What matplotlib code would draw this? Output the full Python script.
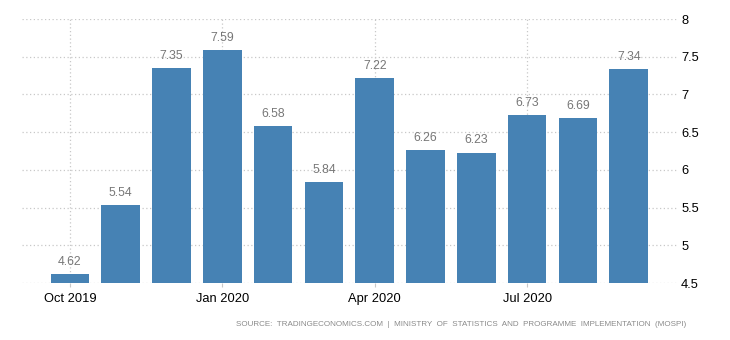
import matplotlib.pyplot as plt

months = ["Oct 2019", "Nov 2019", "Dec 2019", "Jan 2020", "Feb 2020", "Mar 2020",
          "Apr 2020", "May 2020", "Jun 2020", "Jul 2020", "Aug 2020", "Sep 2020"]
values = [4.62, 5.54, 7.35, 7.59, 6.58, 5.84, 7.22, 6.26, 6.23, 6.73, 6.69, 7.34]
tick_labels = ["Oct 2019", "Jan 2020", "Apr 2020", "Jul 2020"]
y_ticks = [4.5, 5, 5.5, 6, 6.5, 7, 7.5, 8]

plt.rcParams["font.family"] = ["Liberation Sans", "DejaVu Sans"]

fig = plt.figure(figsize=(7.3, 3.4), dpi=100)
ax = fig.add_axes([0.0301, 0.1676, 0.8973, 0.7765])

x = list(range(len(values)))
tick_pos = [months.index(t) for t in tick_labels]

ax.set_xlim(-0.945, 11.95)
ax.set_ylim(4.5, 8)

for t in y_ticks:
    ax.axhline(t, color="#c8c8c8", linestyle=(0, (1, 2)), linewidth=0.9, zorder=0)
for p in tick_pos:
    ax.axvline(p, color="#c8c8c8", linestyle=(0, (1, 2)), linewidth=0.9, zorder=0)

ax.bar(x, [v - 4.5 for v in values], bottom=4.5, width=0.76, color="#4682b4", zorder=2)

for xi, v in zip(x, values):
    ax.text(xi, v + 0.08, f"{v:.2f}", ha="center", va="bottom",
            fontsize=8.8, color="#777777")

ax.set_xticks(tick_pos)
ax.set_xticklabels(tick_labels, fontsize=9.3, color="black")
ax.tick_params(axis="x", length=3, color="#c8c8c8", pad=4)

ax.yaxis.tick_right()
ax.set_yticks(y_ticks)
ax.set_yticklabels([f"{t:g}" for t in y_ticks], fontsize=9.3, color="black")
ax.tick_params(axis="y", length=0, pad=3)

for s in ax.spines.values():
    s.set_visible(False)

fig.text(686 / 730, 1 - 325 / 340,
         "SOURCE:  TRADINGECONOMICS.COM  |  MINISTRY  OF  STATISTICS  AND  PROGRAMME  IMPLEMENTATION  (MOSPI)",
         ha="right", va="center", fontsize=5.75, color="#8a8a8a")

fig.savefig("out.png", dpi=100)
